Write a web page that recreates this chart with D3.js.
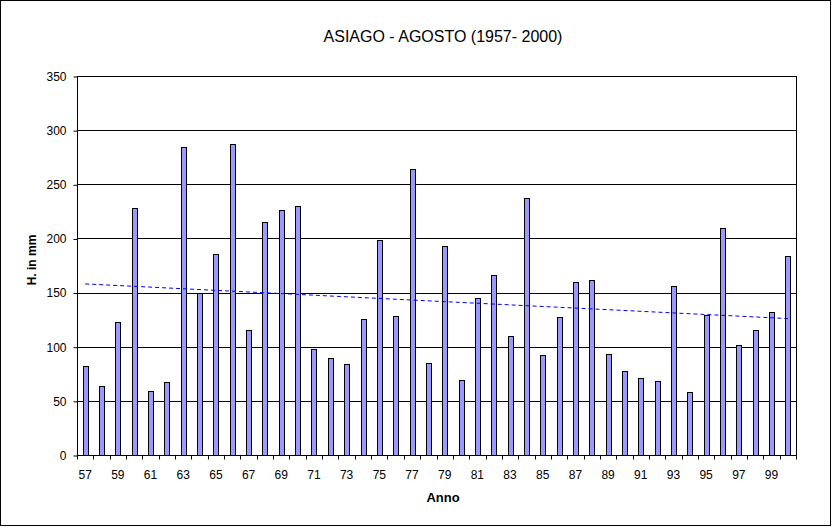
<!DOCTYPE html>
<html>
<head>
<meta charset="utf-8">
<script src="https://cdn.jsdelivr.net/npm/d3@7"></script>
<style>
  html, body { margin: 0; padding: 0; background: #fff; }
  svg { display: block; font-family: Arial, "Liberation Sans", sans-serif; }
</style>
</head>
<body>
<svg id="chart" width="832" height="527"></svg>
<script>
// ---- data ----
const years = ["57","58","59","60","61","62","63","64","65","66","67","68","69","70","71",
  "72","73","74","75","76","77","78","79","80","81","82","83","84","85","86",
  "87","88","89","90","91","92","93","94","95","96","97","98","99","00"];
const rainfall = [82, 64, 123, 228, 59, 67, 284, 150, 186, 287, 115, 215, 226, 230, 98,
  90, 84, 126, 199, 128, 264, 85, 193, 69, 145, 166, 110, 237, 92, 127,
  160, 162, 93, 78, 71, 68, 156, 58, 129, 210, 102, 115, 132, 184];
const trendEnds = [158, 126]; // linear trend value at first and last year
const yTicks = [0, 50, 100, 150, 200, 250, 300, 350];
const xLabels = ["57","59","61","63","65","67","69","71","73","75","77","79","81","83","85","87","89","91","93","95","97","99"];

const chartTitle = "ASIAGO - AGOSTO (1957- 2000)";
const yTitle = "H. in mm";
const xTitle = "Anno";

(function () {
// ---- layout ----
const svg = d3.select("#chart");
const pL = 77, pR = 796, pT = 76, pB = 455;

// outer frame
svg.append("rect").attr("x", 0.5).attr("y", 0.5).attr("width", 830).attr("height", 525)
  .attr("fill", "#fff").attr("stroke", "#000").attr("stroke-width", 1);

const x = d3.scaleBand().domain(years).range([pL, pR]).padding(0);
const y = d3.scaleLinear().domain([0, 350]).range([pB, pT]);

// gridlines
svg.append("g").selectAll("line").data(yTicks.filter(d => d > 0)).join("line")
  .attr("x1", pL).attr("x2", pR)
  .attr("y1", d => Math.round(y(d)) + 0.5).attr("y2", d => Math.round(y(d)) + 0.5)
  .attr("stroke", "#000").attr("stroke-width", 1);

// plot right border
svg.append("line").attr("x1", pR + 0.5).attr("x2", pR + 0.5)
  .attr("y1", pT).attr("y2", pB).attr("stroke", "#000");

// bars
const bw = x.bandwidth() * 0.3;
svg.append("g").selectAll("rect").data(rainfall).join("rect")
  .attr("x", (d, i) => Math.round(x(years[i]) + x.bandwidth() / 2 - bw / 2) + 0.5)
  .attr("y", d => Math.round(y(d)) + 0.5)
  .attr("width", Math.round(bw))
  .attr("height", d => Math.round(y(0)) - Math.round(y(d)))
  .attr("fill", "#9999FF").attr("stroke", "#000").attr("stroke-width", 1);

// trend line
const xc = i => x(years[i]) + x.bandwidth() / 2;
svg.append("line")
  .attr("x1", xc(0)).attr("y1", y(trendEnds[0]))
  .attr("x2", xc(years.length - 1)).attr("y2", y(trendEnds[1]))
  .attr("stroke", "#0000FF").attr("stroke-width", 1).attr("stroke-dasharray", "4,3");

// y axis
const yAxis = d3.axisLeft(y).tickValues(yTicks).tickSize(4).tickPadding(7).tickFormat(d3.format("d"));
const gy = svg.append("g").attr("transform", `translate(${pL + 0.5},0.5)`).call(yAxis);
gy.select(".domain").attr("stroke", "#000").attr("d", `M0,${pT}V${pB}`);
gy.selectAll(".tick line").attr("stroke", "#000");
gy.selectAll("text").attr("font-size", 12).attr("fill", "#000")
  .attr("font-family", "Arial, 'Liberation Sans', sans-serif");

// x axis
const gx = svg.append("g").attr("transform", `translate(0,${pB + 0.5})`);
gx.append("line").attr("x1", pL).attr("x2", pR + 1).attr("y1", 0).attr("y2", 0).attr("stroke", "#000");
gx.selectAll("line.tk").data(d3.range(years.length + 1)).join("line").attr("class", "tk")
  .attr("x1", i => Math.round(pL + i * x.step()) + 0.5)
  .attr("x2", i => Math.round(pL + i * x.step()) + 0.5)
  .attr("y1", 0).attr("y2", 4).attr("stroke", "#000");
gx.selectAll("text").data(xLabels).join("text")
  .attr("x", d => x(d) + x.bandwidth() / 2)
  .attr("y", 23)
  .attr("text-anchor", "middle")
  .attr("font-size", 12).attr("fill", "#000")
  .text(d => d);

// titles
svg.append("text").attr("x", 443).attr("y", 42).attr("text-anchor", "middle")
  .attr("font-size", 16).attr("fill", "#000").text(chartTitle);
svg.append("text").attr("x", 443).attr("y", 502).attr("text-anchor", "middle")
  .attr("font-size", 13).attr("font-weight", "bold").attr("fill", "#000").text(xTitle);
svg.append("text").attr("transform", "translate(36,260) rotate(-90)").attr("text-anchor", "middle")
  .attr("font-size", 12).attr("font-weight", "bold").attr("fill", "#000").text(yTitle);
})();
</script>
</body>
</html>
